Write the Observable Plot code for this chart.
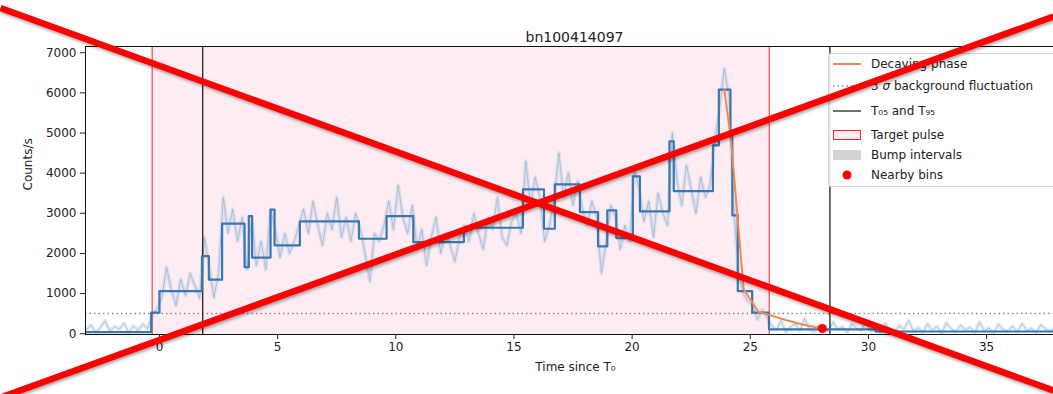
<!DOCTYPE html>
<html><head><meta charset="utf-8">
<script src="https://cdn.jsdelivr.net/npm/d3@7"></script>
<script src="https://cdn.jsdelivr.net/npm/@observablehq/plot@0.6"></script>
<style>
html,body{margin:0;padding:0;background:#fff;overflow:hidden;}
#wrap{position:relative;width:1053px;height:394px;font-family:"DejaVu Sans",sans-serif;overflow:hidden;}
#chart,#overlay{position:absolute;left:0;top:0;}
#overlay{pointer-events:none;filter:drop-shadow(1.5px 2px 1.5px rgba(0,0,0,0.35));}
#legend{position:absolute;left:828px;top:53px;width:240px;height:134px;background:rgba(255,255,255,0.85);border:1px solid #d3d3d3;border-radius:3px;box-sizing:border-box;font-size:12px;color:#222;}
.item{position:absolute;left:4px;height:16px;display:flex;align-items:center;white-space:nowrap;}
.item svg{margin-right:10px;}
</style>
</head><body>
<div id="wrap">
  <div id="chart"></div>
  <div id="legend"></div>
  <div id="overlay"></div>
</div>
<script>
// ---- data ----
const title = "bn100414097";
const xTicks = [0, 5, 10, 15, 20, 25, 30, 35];
const yTicks = [0, 1000, 2000, 3000, 4000, 5000, 6000, 7000];

// fine light curve (start time, bin step, counts/s)
const lcStart = -3.1;
const lcStep = 0.2;
const lcValues = [
  90, 210, 40, 150, 320, 60, 180, 110, 260, 30, 190, 80, 240, 120,
  480, 620,
  900, 1650, 1100, 700, 1350, 950, 1500, 1200, 880,
  2400, 1700,
  900, 1500,
  3400, 2500, 3100, 2300, 2900,
  1600,
  2900,
  1700, 2300, 1600,
  3100,
  2600, 1900, 2500, 2000, 2300, 2700,
  3100, 2500, 3300, 2700, 2200, 3000, 2600, 3400, 2400, 2900, 2300, 3000,
  2600, 2000, 1300, 2500, 2300, 2700,
  3300, 2600, 3700, 2900, 2500, 3200,
  2100, 2600, 1700, 2400, 2900, 2000, 2500, 2200, 1800, 2400,
  2700, 2300, 3000, 2500, 2100, 2900, 2600, 3400, 2400, 2200, 2800, 3000, 2500,
  4300, 3200, 3900, 3400,
  2300, 2700, 3300,
  4500, 3400, 4000, 3200, 3800,
  3100, 2700, 3300, 2900,
  1500, 2300,
  3200, 2900,
  2100, 2700, 2300,
  4100, 3600,
  2800, 3300, 2400, 3500, 3000, 2700,
  5000,
  3800, 3200, 4200, 3600, 3000, 3900, 3400, 3700,
  4800,
  5600, 6600, 5900,
  3200,
  1500, 1000, 800,
  700, 350, 600, 420,
  200, 90, 330, 40, 160, 250, 70, 380, 120, 30, 210, 150, 60, 290, 100, 180, 20, 240, 130, 80, 310, 50,
  170, 40, 260, 90, 20, 200, 110, 330, 60, 150, 30, 240, 80, 180, 10, 270, 120, 50, 210, 90, 160, 30, 290, 70, 140, 20, 230, 100, 60, 190, 40, 250, 80, 130, 30, 220, 110, 60, 170
];

// Bayesian blocks
const blockEdges = [-3.2, -0.35, 0.0, 1.8, 2.09, 2.65, 3.6, 3.78, 3.92, 4.70, 4.87, 5.94, 8.44, 9.61, 10.74, 12.88, 15.38, 16.27, 16.73, 17.79, 18.56, 18.95, 19.33, 20.03, 20.33, 21.58, 21.76, 23.42, 23.67, 24.16, 24.24, 24.47, 25.08, 25.79, 30.3, 40];
const blockLevels = [40, 523, 1061, 1933, 1345, 2740, 1660, 2930, 1893, 3089, 2200, 2798, 2366, 2930, 2283, 2640, 3595, 2615, 3719, 3030, 2175, 3072, 2382, 3919, 3047, 4791, 3553, 4691, 6079, 4898, 2947, 1061, 523, 110, 55];

// decaying phase
const decayT = [23.9, 24.18, 24.72, 25.35, 25.8, 26.5, 27.2, 28.05];
const decayV = [6080, 4850, 1100, 540, 470, 340, 230, 130];

const nearbyT = [28.05];
const nearbyV = [130];

const pulseStart = -0.31, pulseEnd = 25.8;
const t05 = 1.83, t95 = 28.37;
const bg3sigma = 505;

// overlay cross (page pixels)
const crossX = [0, 1053, 0, 1053];
const crossY = [7.5, 390, 397, 16];
const crossLine = ["a", "a", "b", "b"];

// ---- build ----
const xDomain = [-3.13, 37.83];
const yDomain = [-20, 7155];
const lc = lcValues.map((v, i) => ({t: lcStart + lcStep * i, v}));
const steps = blockLevels.map((v, i) => ({t: blockEdges[i], v}));
steps.push({t: blockEdges[blockEdges.length - 1], v: blockLevels[blockLevels.length - 1]});
const decay = decayT.map((t, i) => ({t, v: decayV[i]}));
const nearby = nearbyT.map((t, i) => ({t, v: nearbyV[i]}));
const blue = "#3a77b0";

const chart = Plot.plot({
  width: 1053, height: 394,
  marginLeft: 85, marginRight: 0, marginTop: 46, marginBottom: 60,
  style: {fontFamily: "DejaVu Sans", fontSize: "12px", color: "#222", background: "transparent", overflow: "visible"},
  x: {domain: xDomain},
  y: {domain: yDomain},
  marks: [
    Plot.rect([0], {x1: () => pulseStart, x2: () => pulseEnd, y1: () => yDomain[0], y2: () => yDomain[1], fill: "#fdedf2"}),
    Plot.line(lc, {x: "t", y: "v", stroke: "#8fb2d6", strokeOpacity: 0.25, strokeWidth: 4, clip: true}),
    Plot.line(lc, {x: "t", y: "v", stroke: "#7fa6cf", strokeOpacity: 0.55, strokeWidth: 1, clip: true}),
    Plot.ruleY([bg3sigma], {stroke: "#8a8a8a", strokeWidth: 1.5, strokeDasharray: "1.5,3"}),
    Plot.ruleX([t05, t95], {stroke: "#111", strokeWidth: 1.2}),
    Plot.ruleX([pulseStart, pulseEnd], {stroke: "#ff2020", strokeWidth: 1}),
    Plot.line(steps, {x: "t", y: "v", curve: "step-after", stroke: blue, strokeWidth: 2.2, clip: true}),
    Plot.line(decay, {x: "t", y: "v", stroke: "#f5874f", strokeWidth: 2}),
    Plot.dot(nearby, {x: "t", y: "v", r: 4.5, fill: "#ff0000"}),
    Plot.ruleY([yDomain[0], yDomain[1]], {stroke: "#111", strokeWidth: 1}),
    Plot.ruleX([xDomain[0]], {stroke: "#111", strokeWidth: 1}),
    Plot.axisY({ticks: yTicks, tickSize: 5, tickPadding: 4, label: null, tickFormat: d => String(d)}),
    Plot.axisX({ticks: xTicks, tickSize: 5, tickPadding: 3, label: null}),
    Plot.text([title], {frameAnchor: "top", dy: -14, dx: 5, fontSize: 14, fill: "#222"}),
    Plot.text(["Counts/s"], {frameAnchor: "left", dx: -57, rotate: -90, fill: "#222"}),
    Plot.text(["Time since T₀"], {frameAnchor: "bottom", dy: 36, dx: 6, fill: "#222"})
  ]
});
document.getElementById("chart").appendChild(chart);

// legend
const legendItems = [
  {label: "Decaying phase", top: 2, handle: '<line x1="0" y1="8" x2="28" y2="8" stroke="#f5874f" stroke-width="2"/>'},
  {label: '3 <i>σ</i> background fluctuation', top: 24, handle: '<line x1="0" y1="8" x2="28" y2="8" stroke="#8a8a8a" stroke-width="1.5" stroke-dasharray="1.5,3"/>'},
  {label: "T₀₅ and T₉₅", top: 49, handle: '<line x1="0" y1="8" x2="28" y2="8" stroke="#111" stroke-width="1.2"/>'},
  {label: "Target pulse", top: 73, handle: '<rect x="0.5" y="3.5" width="27" height="9" fill="#fdedf2" stroke="#ff2020" stroke-width="1"/>'},
  {label: "Bump intervals", top: 93, handle: '<rect x="0" y="3" width="28" height="10" fill="#d3d3d3"/>'},
  {label: "Nearby bins", top: 113, handle: '<circle cx="14" cy="8" r="4.5" fill="#ff0000"/>'}
];
const legend = document.getElementById("legend");
legendItems.forEach(it => {
  const d = document.createElement("div");
  d.className = "item";
  d.style.top = it.top + "px";
  d.innerHTML = `<svg width="28" height="16">${it.handle}</svg><span>${it.label}</span>`;
  legend.appendChild(d);
});

// cross overlay
const cross = crossX.map((x, i) => ({x, y: crossY[i], k: crossLine[i]}));
const overlay = Plot.plot({
  width: 1053, height: 394, margin: 0,
  style: {background: "transparent", overflow: "visible"},
  x: {domain: [0, 1053], range: [0, 1053], axis: null},
  y: {domain: [0, 394], range: [0, 394], axis: null},
  marks: [
    Plot.line(cross, {x: "x", y: "y", z: "k", stroke: "#ff0000", strokeWidth: 6.5, strokeLinecap: "butt"})
  ]
});
document.getElementById("overlay").appendChild(overlay);
</script>
</body></html>
